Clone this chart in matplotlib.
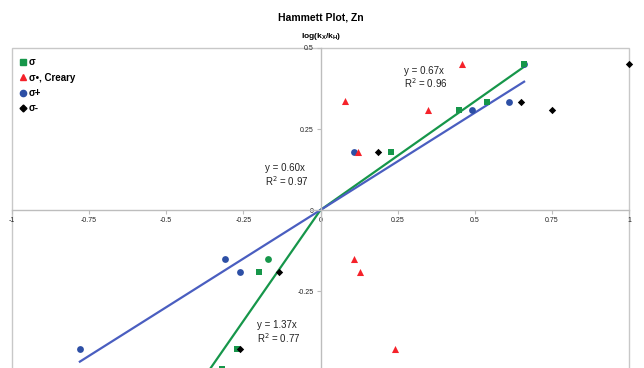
import matplotlib
matplotlib.use("Agg")
import matplotlib.pyplot as plt
from matplotlib.lines import Line2D
from matplotlib.patches import Rectangle
import numpy as np

plt.rcParams['font.family'] = ['Liberation Sans', 'DejaVu Sans']

# Data
sigma_x = [-0.32, -0.27, -0.20, -0.17, 0.23, 0.45, 0.54, 0.66]
sigma_y = [-0.49, -0.43, -0.19, -0.15, 0.18, 0.31, 0.333, 0.45]
sigma_marker = ['s', 's', 's', 'o', 's', 's', 's', 's']

creary_x = [0.08, 0.12, 0.107, 0.127, 0.24, 0.347, 0.458]
creary_y = [0.336, 0.18, -0.15, -0.19, -0.43, 0.31, 0.45]

plus_x = [-0.78, -0.31, -0.26, 0.11, 0.49, 0.61, 0.66]
plus_y = [-0.43, -0.15, -0.19, 0.18, 0.31, 0.333, 0.45]

minus_x = [-0.26, -0.133, 0.188, 0.65, 0.75, 1.0]
minus_y = [-0.43, -0.19, 0.18, 0.333, 0.31, 0.45]

# trendlines (through origin)
fit_pos_slope, fit_pos_range = 0.67, (0.0, 0.66)
fit_neg_slope, fit_neg_range = 1.37, (-0.36, 0.0)
fit_all_slope, fit_all_range = 0.60, (-0.78, 0.66)

x_ticks = [-1, -0.75, -0.5, -0.25, 0, 0.25, 0.5, 0.75, 1]
x_tick_labels = ['-1', '-0.75', '-0.5', '-0.25', '0', '0.25', '0.5', '0.75', '1']
y_ticks = [-0.5, -0.25, 0, 0.25, 0.5]
y_tick_labels = ['-0.5', '-0.25', '0', '0.25', '0.5']

GREEN = '#16964a'
RED = '#f5222a'
BLUE = '#2d4fa5'
BLUE_LINE = '#4a5ec0'
BLACK = '#000000'
GRID = '#c8c8c8'

fig = plt.figure(figsize=(6.44, 3.68), dpi=100)
ax = fig.add_axes([12/644, 1 - 372/368, (629-12)/644, (372-48)/368])
ax.set_xlim(-1, 1)
ax.set_ylim(-0.5, 0.5)

# frame border
ax.add_patch(Rectangle((0, 0), 1, 1, transform=ax.transAxes, fill=False,
                       edgecolor=GRID, lw=1.0, zorder=0, clip_on=False))

for s in ['top', 'right']:
    ax.spines[s].set_visible(False)
ax.spines['left'].set_position(('data', 0))
ax.spines['bottom'].set_position(('data', 0))
for s in ['left', 'bottom']:
    ax.spines[s].set_color('#bdbdbd')
    ax.spines[s].set_linewidth(1.0)

ax.set_xticks(x_ticks)
ax.set_xticklabels(x_tick_labels)
ax.set_yticks(y_ticks)
ax.set_yticklabels(y_tick_labels)
ax.tick_params(axis='both', labelsize=5, colors='#bdbdbd', labelcolor='#222222',
               length=3, width=0.8, direction='out', pad=2)

# trendlines
xs = np.array(fit_pos_range)
ax.plot(xs, fit_pos_slope * xs, color=GREEN, lw=1.6, zorder=2)
xs = np.array(fit_neg_range)
ax.plot(xs, fit_neg_slope * xs, color=GREEN, lw=1.6, zorder=2)
xs = np.array(fit_all_range)
ax.plot(xs, fit_all_slope * xs, color=BLUE_LINE, lw=1.6, zorder=2)

# markers
ax.scatter(plus_x, plus_y, marker='o', s=24, color=BLUE, zorder=3, linewidths=0, clip_on=False)
ax.scatter(creary_x, creary_y, marker='^', s=26, color=RED, zorder=3, linewidths=0, clip_on=False)
for x, y, m in zip(sigma_x, sigma_y, sigma_marker):
    ax.scatter([x], [y], marker=m, s=24, color=GREEN, zorder=4, linewidths=0, clip_on=False)
ax.scatter(minus_x, minus_y, marker='D', s=14, color=BLACK, zorder=5, linewidths=0, clip_on=False)

# equation labels
tf = dict(fontsize=7, color='#222222', zorder=6)
ax.text(0.27, 0.42, 'y = 0.67x', **tf)
ax.text(0.27, 0.375, 'R$^2$ = 0.96', **tf)
ax.text(-0.18, 0.12, 'y = 0.60x', **tf)
ax.text(-0.18, 0.075, 'R$^2$ = 0.97', **tf)
ax.text(-0.205, -0.365, 'y = 1.37x', **tf)
ax.text(-0.205, -0.41, 'R$^2$ = 0.77', **tf)

# legend
handles = [
    Line2D([], [], marker='s', color=GREEN, ls='none', markersize=4.5),
    Line2D([], [], marker='^', color=RED, ls='none', markersize=5),
    Line2D([], [], marker='o', color=BLUE, ls='none', markersize=4.5),
    Line2D([], [], marker='D', color=BLACK, ls='none', markersize=3.5),
]
labels = ['σ', 'σ•, Creary', 'σ+', 'σ-']
leg = ax.legend(handles, labels, loc='upper left', bbox_to_anchor=(0.0, 0.995),
                frameon=False, fontsize=7, handlelength=0.6, handletextpad=0.3,
                labelspacing=0.55, borderaxespad=0.4)
for t in leg.get_texts():
    t.set_fontweight('bold')

fig.text(321/644, 1 - 17/368, 'Hammett Plot, Zn', ha='center', va='center',
         fontsize=7.5, fontweight='bold')
fig.text(321/644, 1 - 37/368, r'log(k$_\mathregular{X}$/k$_\mathregular{H}$)',
         ha='center', va='center', fontsize=6, fontweight='bold')

fig.savefig('out.png', dpi=100)
